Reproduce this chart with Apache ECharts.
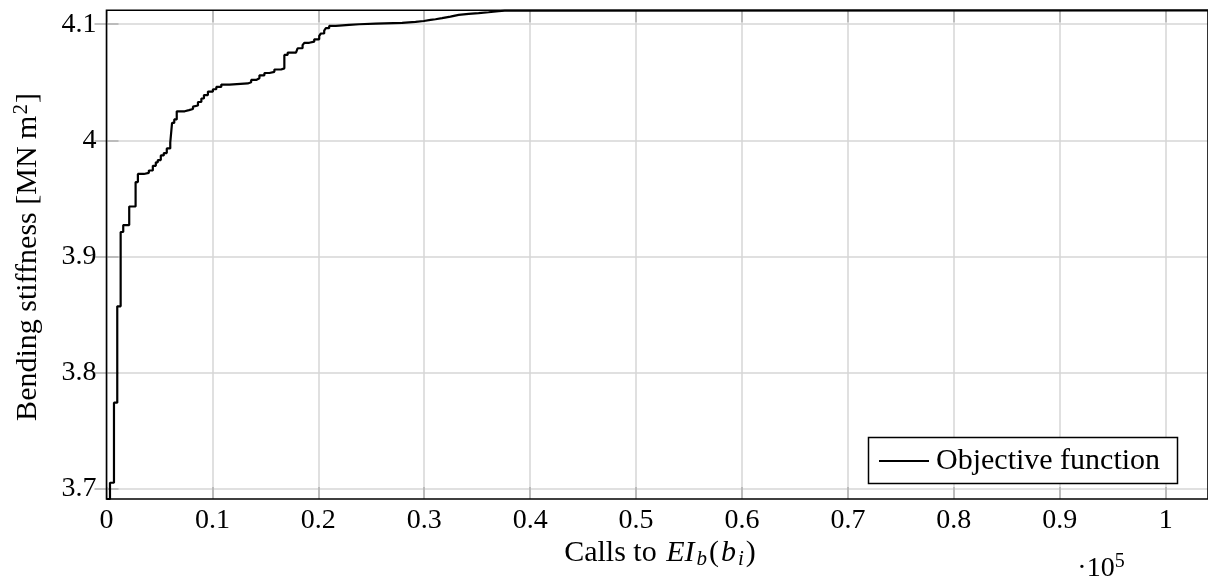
<!DOCTYPE html>
<html>
<head>
<meta charset="utf-8">
<script src="https://cdn.jsdelivr.net/npm/echarts@6/dist/echarts.min.js"></script>
<style>
html,body{margin:0;padding:0;background:#fff;}
#chart{width:1208px;height:581px;}
</style>
</head>
<body>
<div id="chart"></div>
<script>
// Calls to EI_b(b_i) (raw count) at which each stepped value begins
const calls = [0, 329, 706, 1016, 1336, 1580, 2145, 2747, 2963, 3528, 3998, 4374, 4656, 4845, 5127, 5409, 5691, 6020, 6190, 6397, 6632, 7385, 7789, 8165, 8325, 8636, 8956, 9200, 9577, 10047, 10367, 10837, 11618, 13339, 13659, 14130, 14440, 14910, 15381, 15851, 16481, 16792, 17102, 17892, 18043, 18513, 18673, 19143, 19614, 20084, 20244, 20554, 20714, 21024, 21655, 22906, 23847, 25418, 27920, 29181, 29961, 30592, 31062, 31683, 32473, 33254, 34195, 35135, 36076, 37017, 37600, 104000];
// Objective function: bending stiffness [MN m^2]
const objective = [3.691, 3.705, 3.774, 3.857, 3.921, 3.927, 3.943, 3.964, 3.971, 3.972, 3.974, 3.978, 3.981, 3.983, 3.987, 3.989, 3.993, 3.998, 4.015, 4.018, 4.025, 4.026, 4.027, 4.029, 4.030, 4.033, 4.036, 4.039, 4.042, 4.044, 4.046, 4.048, 4.049, 4.050, 4.052, 4.0535, 4.056, 4.058, 4.059, 4.061, 4.062, 4.0736, 4.0755, 4.0764, 4.0793, 4.082, 4.084, 4.085, 4.087, 4.090, 4.092, 4.0945, 4.0966, 4.0985, 4.0994, 4.100, 4.1005, 4.1011, 4.102, 4.1028, 4.1037, 4.1043, 4.1052, 4.1065, 4.108, 4.1089, 4.1095, 4.1103, 4.1112, 4.1117, 4.112, 4.112];

const xTicks = [0, 10000, 20000, 30000, 40000, 50000, 60000, 70000, 80000, 90000, 100000];
const yTicks = [3.7, 3.8, 3.9, 4.0, 4.1];
const xMin = 0, xMax = 104000;
const yMin = 3.691, yMax = 4.112;
const seriesName = 'Objective function';

const FONT = 'Liberation Serif';
const chart = echarts.init(document.getElementById('chart'), null, {renderer: 'canvas'});

const gridLine = {show: true, lineStyle: {color: '#d6d6d6', width: 1.5}};
const tickStyle = {lineStyle: {color: '#b0b0b0', width: 1.5}};

chart.setOption({
  animation: false,
  backgroundColor: '#fff',
  grid: {left: 106.5, top: 10.3, width: 1105.5, height: 488.7, show: true,
         borderColor: '#000', borderWidth: 1.6, backgroundColor: 'transparent', z: 3},
  xAxis: [{
    type: 'value', min: xMin, max: xMax, position: 'bottom',
    axisLine: {show: false},
    axisTick: Object.assign({show: true, inside: true, length: 12, customValues: xTicks}, tickStyle),
    axisLabel: {customValues: xTicks, fontFamily: FONT, fontSize: 28, color: '#000', margin: 8,
                formatter: v => String(Number((v / 1e5).toFixed(1)))},
    splitLine: gridLine
  }, {
    type: 'value', min: xMin, max: xMax, position: 'top',
    axisLine: {show: false},
    axisTick: Object.assign({show: true, inside: true, length: 12, customValues: xTicks}, tickStyle),
    axisLabel: {show: false}, splitLine: {show: false}
  }],
  yAxis: [{
    type: 'value', min: yMin, max: yMax, position: 'left',
    axisLine: {show: false},
    axisTick: Object.assign({show: true, inside: true, length: 12, customValues: yTicks}, tickStyle),
    axisLabel: {customValues: yTicks, fontFamily: FONT, fontSize: 28, color: '#000', margin: 10,
                verticalAlign: 'middle', padding: [4, 0, 0, 0],
                formatter: v => String(Number(v.toFixed(1)))},
    splitLine: gridLine
  }, {
    type: 'value', min: yMin, max: yMax, position: 'right',
    axisLine: {show: false},
    axisTick: Object.assign({show: true, inside: true, length: 12, customValues: yTicks}, tickStyle),
    axisLabel: {show: false}, splitLine: {show: false}
  }],
  legend: {
    left: 874, top: 441, z: 200,
    itemWidth: 50, itemHeight: 2, itemGap: 0,
    icon: 'rect',
    textStyle: {fontFamily: FONT, fontSize: 30, color: '#000', padding: [0, 0, 0, 2]},
    data: [{name: seriesName, icon: 'rect', itemStyle: {color: '#000'}}]
  },
  graphic: [
    {type: 'rect', z: 150, shape: {x: 868.5, y: 437.5, width: 309, height: 46},
     style: {fill: '#fff', stroke: '#000', lineWidth: 1.5}},
    {type: 'text', z: 150, x: 660, y: 553,
     style: {text: '{r|Calls to }{i|EI}{s|b}{r|(}{i|b}{s|i}{r|)}', align: 'center', verticalAlign: 'middle',
       rich: {
         r: {fontFamily: FONT, fontSize: 30, fill: '#000'},
         i: {fontFamily: FONT, fontSize: 30, fontStyle: 'italic', fill: '#000', padding: [0, 2, 0, 2]},
         s: {fontFamily: FONT, fontSize: 21, fontStyle: 'italic', fill: '#000', padding: [12, 2, 0, 0]}
       }}},
    {type: 'text', z: 150, x: 1101, y: 569,
     style: {text: '{r|·10}{p|5}', align: 'center', verticalAlign: 'middle',
       rich: {
         r: {fontFamily: FONT, fontSize: 28, fill: '#000'},
         p: {fontFamily: FONT, fontSize: 20, fill: '#000', padding: [0, 0, 14, 0]}
       }}},
    {type: 'text', z: 150, x: 28, y: 257, rotation: Math.PI / 2,
     style: {text: '{r|Bending stiffness [MN m}{p|2}{r|]}', align: 'center', verticalAlign: 'middle',
       rich: {
         r: {fontFamily: FONT, fontSize: 30, fill: '#000'},
         p: {fontFamily: FONT, fontSize: 21, fill: '#000', padding: [0, 1, 14, 1]}
       }}}
  ],
  series: [{
    name: seriesName, type: 'line', step: 'end', symbol: 'none',
    xAxisIndex: 0, yAxisIndex: 0,
    lineStyle: {color: '#000', width: 2.2},
    itemStyle: {color: '#000'},
    clip: true, z: 5,
    data: calls.map((c, i) => [c, objective[i]])
  }]
});
</script>
</body>
</html>
